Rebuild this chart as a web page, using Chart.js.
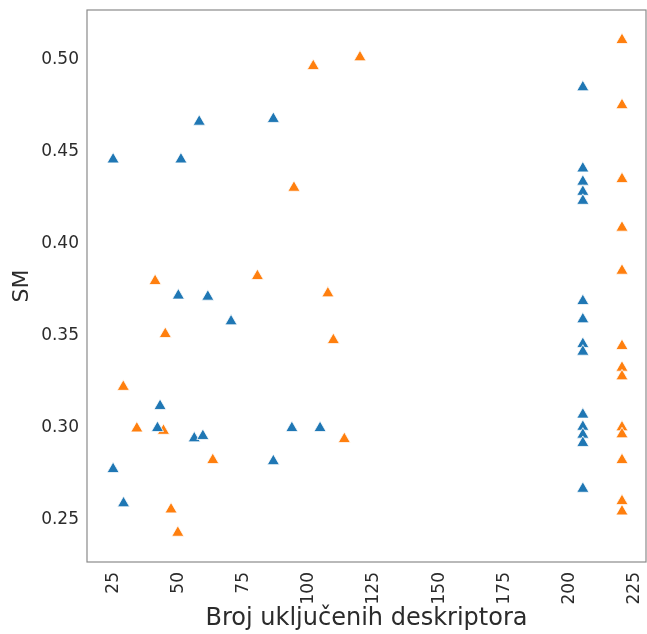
<!DOCTYPE html>
<html>
<head>
<meta charset="utf-8">
<script src="https://cdn.jsdelivr.net/npm/chart.js@4"></script>
<style>
  html, body { margin: 0; padding: 0; background: #fff; }
  #wrap { width: 647px; height: 634px; }
</style>
</head>
<body>
<div id="wrap"><canvas id="scatterChart"></canvas></div>
<script>
const xTicks = [25, 50, 75, 100, 125, 150, 175, 200, 225];
const yTicks = [0.25, 0.30, 0.35, 0.40, 0.45, 0.50];

const blueX = [25, 51, 58, 86.4, 50, 61.3, 70.2, 43, 42, 56.1, 59.4, 93.5, 104.3, 86.4, 25, 29,
  205, 205, 205, 205, 205, 205, 205, 205, 205, 205, 205, 205, 205, 205];
const blueY = [0.446, 0.446, 0.4665, 0.468, 0.372, 0.3714, 0.358, 0.312, 0.300, 0.2944, 0.2957, 0.300, 0.300, 0.282, 0.2777, 0.2591,
  0.4852, 0.4411, 0.4339, 0.4284, 0.4235, 0.369, 0.3591, 0.3457, 0.3415, 0.3073, 0.3007, 0.2964, 0.2919, 0.2670];

const orangeX = [101.7, 119.6, 94.3, 41.1, 80.3, 107.3, 45, 109.4, 28.9, 34.1, 44.3, 113.6, 63.2, 47.2, 49.8,
  220, 220, 220, 220, 220, 220, 220, 220, 220, 220, 220, 220, 220];
const orangeY = [0.4967, 0.5015, 0.4306, 0.3799, 0.3826, 0.3732, 0.3511, 0.3478, 0.3224, 0.2998, 0.2985, 0.294, 0.2826, 0.2558, 0.2431,
  0.5109, 0.4755, 0.4353, 0.4089, 0.3855, 0.3446, 0.3328, 0.3281, 0.3004, 0.2966, 0.2826, 0.2603, 0.2547];

const pairs = (xs, ys) => xs.map((x, i) => ({ x: x, y: ys[i] }));

const textColor = "#2b2b2b";
const frameColor = "#8a8a8a";

// box around the plot area, like the matplotlib spines
const framePlugin = {
  id: "frame",
  afterDraw(chart) {
    const { ctx, chartArea: a } = chart;
    ctx.save();
    ctx.strokeStyle = frameColor;
    ctx.lineWidth = 1.2;
    ctx.strokeRect(a.left, a.top, a.right - a.left, a.bottom - a.top);
    ctx.restore();
  }
};

const marker = color => ({
  pointStyle: "triangle",
  pointRadius: 7,
  pointHoverRadius: 7,
  backgroundColor: color,
  borderColor: "#ffffff",
  borderWidth: 0.8
});

// keep the plot box where the reference has it
const noPad = s => { s.paddingLeft = 0; s.paddingRight = 0; s.paddingTop = 0; s.paddingBottom = 0; };

new Chart(document.getElementById("scatterChart"), {
  type: "scatter",
  data: {
    datasets: [
      { label: "blue", data: pairs(blueX, blueY), ...marker("#1f77b4") },
      { label: "orange", data: pairs(orangeX, orangeY), ...marker("#ff7f0e") }
    ]
  },
  plugins: [framePlugin],
  options: {
    responsive: true,
    maintainAspectRatio: false,
    animation: false,
    layout: { autoPadding: false, padding: { top: 10, right: 1, left: 0, bottom: 0 } },
    plugins: { legend: { display: false }, tooltip: { enabled: false } },
    scales: {
      x: {
        type: "linear",
        min: 15,
        max: 229.2,
        afterBuildTicks: s => { s.ticks = xTicks.map(v => ({ value: v })); },
        afterFit: s => { s.height = 72; noPad(s); },
        grid: { display: false, drawTicks: false },
        border: { display: false },
        ticks: {
          color: textColor,
          font: { family: "DejaVu Sans", size: 17 },
          maxRotation: 90,
          minRotation: 90,
          padding: 10,
          callback: v => String(v)
        },
        title: {
          display: true,
          text: "Broj uključenih deskriptora",
          color: textColor,
          font: { family: "DejaVu Sans", size: 24 },
          padding: { top: 0, bottom: 1 }
        }
      },
      y: {
        type: "linear",
        min: 0.2272,
        max: 0.5272,
        afterBuildTicks: s => { s.ticks = yTicks.map(v => ({ value: v })); },
        afterFit: s => { s.width = 87; noPad(s); },
        grid: { display: false, drawTicks: false },
        border: { display: false },
        ticks: {
          color: textColor,
          font: { family: "DejaVu Sans", size: 17 },
          padding: 8,
          callback: v => Number(v).toFixed(2)
        },
        title: {
          display: true,
          text: "SM",
          color: textColor,
          font: { family: "DejaVu Sans", size: 22 },
          padding: { top: 9, bottom: 0 }
        }
      }
    }
  }
});
</script>
</body>
</html>
